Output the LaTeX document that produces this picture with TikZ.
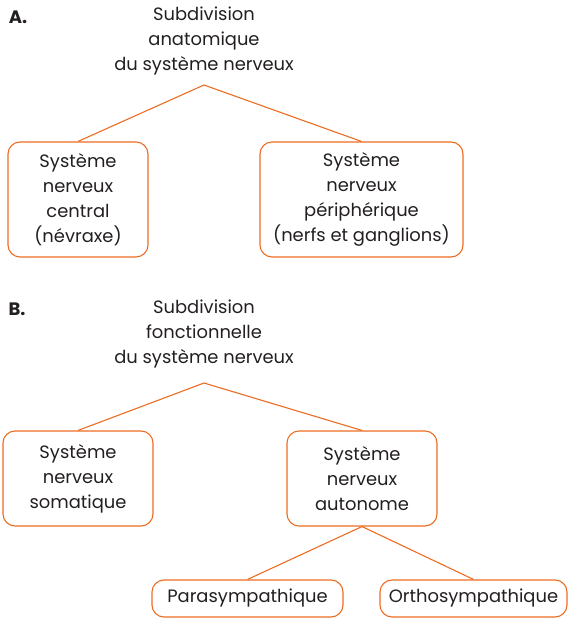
\documentclass[tikz,border=0pt]{standalone}
\usepackage{fontspec}
\setmainfont{Poppins}
\usepackage{tikz}
\usetikzlibrary{positioning}
\definecolor{orangeline}{RGB}{236,108,34}
\definecolor{darktext}{RGB}{35,31,32}
\tikzset{
    box/.style={
           rectangle,
           rounded corners=12pt,
           draw=orangeline, line width=1.1pt,
           text=darktext,
           align=center,
           inner sep=2pt,
           font=\fontsize{17.9}{25}\selectfont,
           },
    title/.style={
           align=center,
           text=darktext,
           font=\fontsize{17.9}{25}\selectfont,
           },
    label/.style={
           text=darktext,
           font=\bfseries\fontsize{18}{20}\selectfont,
           },
}

\begin{document}
\begin{tikzpicture}[x=1pt,y=1pt]
 \useasboundingbox (0,0) rectangle (568,618);

 % Part A: anatomic subdivision
 \node[label] (Label A) at (18,601) {A.};
 \node[title] (Title A) at (204,577)
  {Subdivision\\anatomique\\du système nerveux};
 \coordinate (Apex A) at (204,533);

 \node[box, minimum width=140pt, minimum height=115pt] (Central) at (78,418.5)
  {Système\\nerveux\\central\\(névraxe)};
 \node[box, minimum width=203pt, minimum height=115pt] (Peripherique) at (361.5,418.5)
  {Système\\nerveux\\périphérique\\(nerfs et ganglions)};

 % Part B: functional subdivision
 \node[label] (Label B) at (17,309) {B.};
 \node[title] (Title B) at (204,284)
  {Subdivision\\fonctionnelle\\du système nerveux};
 \coordinate (Apex B) at (204,235);

 \node[box, minimum width=150pt, minimum height=95pt] (Somatique) at (78,139.5)
  {Système\\nerveux\\somatique};
 \node[box, minimum width=150pt, minimum height=95pt] (Autonome) at (362,139.5)
  {Système\\nerveux\\autonome};

 \node[box, minimum width=191pt, minimum height=37pt] (Para) at (247.5,19.5)
  {Parasympathique};
 \node[box, minimum width=187pt, minimum height=37pt] (Ortho) at (473.5,19.5)
  {Orthosympathique};

 % connectors
 \path[draw=orangeline, line width=1.1pt]
  (Apex A) edge (Central.north)
  (Apex A) edge (Peripherique.north)
  (Apex B) edge (Somatique.north)
  (Apex B) edge (Autonome.north)
  (Autonome.south) edge (Para.north)
  (Autonome.south) edge (Ortho.north);
\end{tikzpicture}
\end{document}
